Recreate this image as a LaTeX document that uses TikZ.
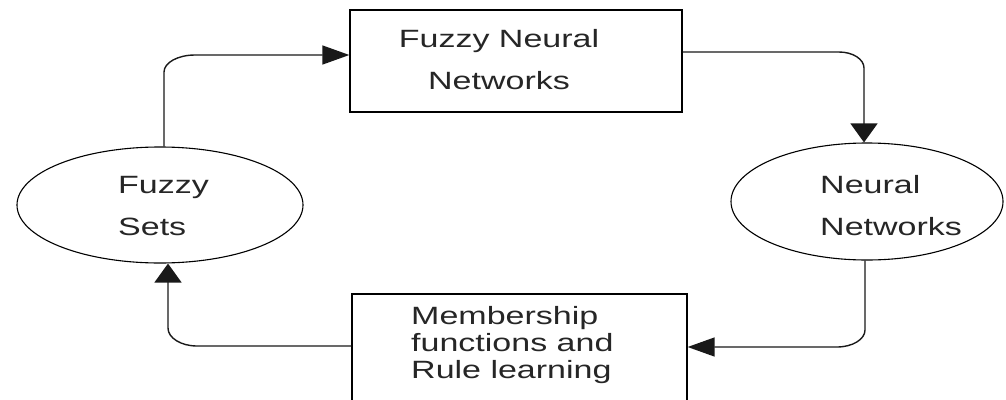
\documentclass[tikz,border=0pt]{standalone}
\usepackage{fontspec}
\newfontfamily\labfont[FakeStretch=1.36]{Liberation Sans}
\usetikzlibrary{arrows.meta,calc,shapes.geometric}
\tikzset{
  lab/.style={font=\labfont\fontsize{25}{42}\selectfont, text=black!85, inner sep=0pt},
  boxnode/.style={draw=black, line width=1.3pt, rectangle, inner sep=0pt},
  ellnode/.style={draw=black, line width=1.1pt, ellipse, inner sep=0pt},
  conn/.style={draw=black!90, line width=1.4pt},
  harrow/.style={-{Triangle[length=27pt,width=19pt]}},
  varrow/.style={-{Triangle[length=19pt,width=27pt]}}
}
\begin{document}
\begin{tikzpicture}[x=1pt,y=-1pt]
\useasboundingbox (0,0) rectangle (1006,399);
\clip (0,0) rectangle (1006,399);
% shapes
\node[boxnode, minimum width=332pt, minimum height=102pt] (fnn) at (516,61) {};
\node[boxnode, minimum width=335pt, minimum height=112pt] (mf) at (519.5,350) {};
\node[ellnode, minimum width=286pt, minimum height=116pt] (fs) at (160,205) {};
\node[ellnode, minimum width=272pt, minimum height=117pt] (nn) at (867,201.5) {};
% texts
\node[lab, align=center] (fnntext) at (499,60) {Fuzzy Neural\\Networks};
\node[lab, align=left, anchor=west] (fstext) at (118,206.5) {Fuzzy\\Sets};
\node[lab, align=left, anchor=west] (nntext) at (820,206) {Neural\\Networks};
\node[lab, align=left, anchor=west, font=\labfont\fontsize{25}{27}\selectfont] (mftext) at (411,345) {Membership\\functions and\\Rule learning};
% connection points
\coordinate (c1) at ($(fs.north)+(4,0)$);
\coordinate (fnnin) at ($(fnn.west)+(0,-6)$);
\coordinate (fnnout) at ($(fnn.east)+(0,-9)$);
\coordinate (c2) at ($(nn.north)+(-3,0)$);
\coordinate (c3) at ($(nn.south)+(-2,0)$);
\coordinate (mfin) at ($(mf.east)+(0,-3)$);
\coordinate (mfout) at ($(mf.west)+(0,-4)$);
\coordinate (c4) at ($(fs.south)+(8,0)$);
% connectors
\draw[conn,harrow] (c1) -- ($(c1 |- fnnin)+(0,17)$)
  arc[start angle=180,end angle=90,x radius=31pt,y radius=17pt] -- (fnnin);
\draw[conn,varrow] (fnnout) -- ($(c2 |- fnnout)+(-25,0)$)
  arc[start angle=90,end angle=0,x radius=25pt,y radius=16pt] -- (c2);
\draw[conn,harrow] (c3) -- ($(c3 |- mfin)+(0,-17)$)
  arc[start angle=0,end angle=-90,x radius=28pt,y radius=17pt] -- (mfin);
\draw[conn,varrow] (mfout) -- ($(c4 |- mfout)+(29,0)$)
  arc[start angle=270,end angle=180,x radius=29pt,y radius=18pt] -- (c4);
\end{tikzpicture}
\end{document}
